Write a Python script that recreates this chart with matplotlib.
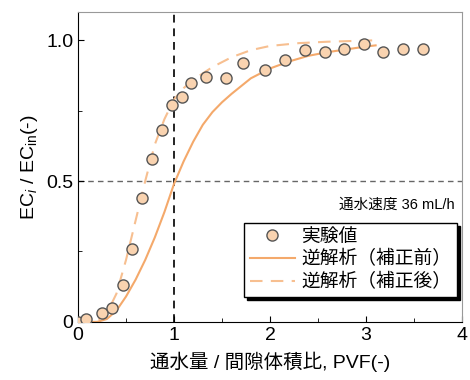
import numpy as np
import matplotlib
matplotlib.use('Agg')
import matplotlib.pyplot as plt

plt.rcParams['font.family'] = ['Liberation Sans', 'Noto Sans CJK JP']
plt.rcParams['mathtext.fontset'] = 'custom'
plt.rcParams['mathtext.rm'] = 'Liberation Sans'
plt.rcParams['mathtext.it'] = 'Liberation Sans:italic'

# measured points
pvf_obs = [0.0, 0.08, 0.25, 0.35, 0.47, 0.56, 0.67, 0.77, 0.875, 0.98, 1.08, 1.18,
           1.33, 1.54, 1.72, 1.95, 2.16, 2.36, 2.57, 2.77, 2.98, 3.18, 3.39, 3.59]
ec_obs = [0.0, 0.01, 0.03, 0.05, 0.13, 0.26, 0.44, 0.58, 0.68, 0.77, 0.80, 0.85,
          0.87, 0.865, 0.92, 0.895, 0.93, 0.965, 0.957, 0.968, 0.986, 0.96, 0.968, 0.968]

# inverse analysis, before correction
pvf_pre = [0.0, 0.2, 0.3, 0.4, 0.5, 0.6, 0.7, 0.8, 0.9, 1.0, 1.1, 1.2, 1.3, 1.4,
           1.5, 1.6, 1.8, 2.0, 2.2, 2.4, 2.6, 2.8, 3.0, 3.1]
ec_pre = [0.0, 0.0, 0.01, 0.04, 0.09, 0.15, 0.22, 0.30, 0.39, 0.49, 0.57, 0.64, 0.70,
          0.745, 0.78, 0.81, 0.865, 0.90, 0.925, 0.945, 0.958, 0.968, 0.978, 0.982]

# inverse analysis, after correction
pvf_post = [0.0, 0.2, 0.3, 0.4, 0.5, 0.6, 0.7, 0.8, 0.9, 1.0, 1.1, 1.2, 1.4, 1.6,
            1.8, 2.0, 2.3, 2.6, 3.1]
ec_post = [0.0, 0.005, 0.03, 0.10, 0.22, 0.36, 0.50, 0.63, 0.72, 0.79, 0.83, 0.86,
           0.905, 0.94, 0.965, 0.98, 0.99, 0.995, 1.0]

line_c = '#f4a96b'

fig = plt.figure(figsize=(4.7, 3.8), dpi=100)
ax = fig.add_axes([0.166, 0.153, 0.817, 0.815])

ax.axvline(1.0, color='#222222', ls=(0, (4, 3)), lw=1.4, zorder=1)
ax.axhline(0.5, color='#666666', ls=(0, (4, 3)), lw=1.0, zorder=1)

ax.plot(pvf_obs, ec_obs, 'o', ms=8, mfc='#f9d3b0', mec='#555555', mew=1.0,
        label='実験値', zorder=3)
ax.plot(pvf_pre, ec_pre, '-', color=line_c, lw=1.5, label='逆解析（補正前）', zorder=2)
ax.plot(pvf_post, ec_post, '--', color='#f7bf90', lw=1.5, dashes=(6, 4),
        label='逆解析（補正後）', zorder=2)

ax.set_xlim(0, 4)
ax.set_ylim(0, 1.1)
ax.set_xticks([0, 1, 2, 3, 4])
ax.set_xticks([0.5, 1.5, 2.5, 3.5], minor=True)
ax.set_yticks([0, 0.5, 1.0])
ax.set_yticklabels(['0', '0.5', '1.0'])
ax.set_yticks([0.25, 0.75], minor=True)
ax.tick_params(which='both', direction='in', labelsize=14, top=False, right=False)
ax.tick_params(which='major', length=4)
ax.tick_params(which='minor', length=3)
for s in ['top', 'right']:
    ax.spines[s].set_color('#999999')

ax.set_xlabel('通水量 / 間隙体積比, PVF(-)', fontsize=14, labelpad=6)
ax.set_ylabel(r'EC$_{\mathit{i}}$ / EC$_{\mathrm{in}}$(-)', fontsize=14)

ax.text(0.982, 0.377, '通水速度 36 mL/h', transform=ax.transAxes, ha='right',
        va='center', fontsize=10.5)

leg = ax.legend(loc='lower right', bbox_to_anchor=(0.987, 0.081), borderaxespad=0,
                fontsize=13.5, fancybox=False, shadow={'color': 'black', 'alpha': 1},
                framealpha=1, edgecolor='black', handlelength=2.4, borderpad=0.3,
                labelspacing=0.25, handletextpad=0.35)
leg.get_frame().set_linewidth(1.0)

fig.savefig('out.png', dpi=100)
